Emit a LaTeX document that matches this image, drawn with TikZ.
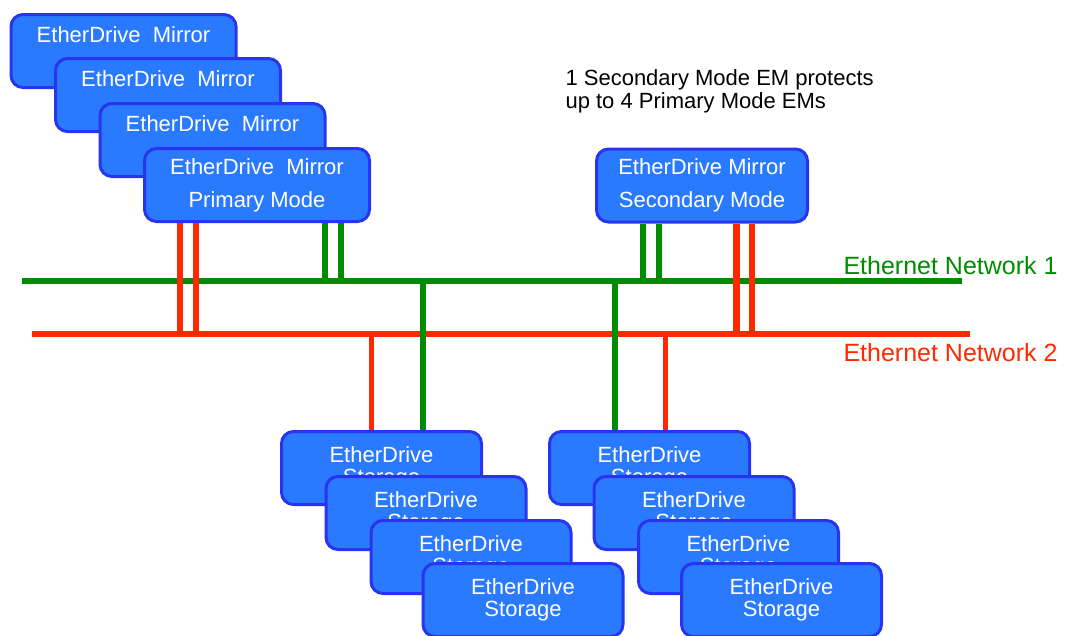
\documentclass[tikz,border=0pt]{standalone}
\usepackage{fontspec}
\setmainfont{Liberation Sans}
\definecolor{boxblue}{RGB}{42,122,255}
\definecolor{boxedge}{RGB}{40,52,240}
\definecolor{netgreen}{RGB}{0,140,0}
\definecolor{netred}{RGB}{255,40,0}
\tikzset{
  mirror/.style={draw=boxedge, line width=3pt, fill=boxblue, text=white,
    rounded corners=12pt, minimum width=225pt, minimum height=73pt,
    align=center, font=\fontsize{22}{33}\selectfont},
  storage/.style={mirror, minimum width=200pt, font=\fontsize{22}{22}\selectfont},
  greennet/.style={netgreen, line width=6.5pt},
  rednet/.style={netred, line width=6.5pt},
  netlabel/.style={anchor=base west, font=\fontsize{25}{25}\selectfont}
}
\begin{document}
\begin{tikzpicture}[x=1pt, y=-1pt]
\useasboundingbox (0,0) rectangle (1067,635);
% the two networks
\coordinate (n1w) at (22,281);  \coordinate (n1e) at (962,281);
\coordinate (n2w) at (32,334);  \coordinate (n2e) at (970,334);
\draw[greennet] (n1w) -- (n1e);
\draw[rednet] (n2w) -- (n2e);
\node[netlabel, text=netgreen] (lab1) at (840,274) {Ethernet Network 1};
\node[netlabel, text=netred] (lab2) at (840,361) {Ethernet Network 2};
% primary mode mirrors
\node[mirror] (pm1) at (123.5,51) {EtherDrive\ \ Mirror\\\mbox{}};
\node[mirror] (pm2) at (168,95) {EtherDrive\ \ Mirror\\\mbox{}};
\node[mirror] (pm3) at (212.5,140) {EtherDrive\ \ Mirror\\\mbox{}};
\node[mirror] (pm4) at (257,185) {EtherDrive\ \ Mirror\\Primary Mode};
\draw[greennet, line width=6pt] ([xshift=68pt]pm4.south) -- ([xshift=68pt]pm4.south |- n1w);
\draw[greennet, line width=6pt] ([xshift=84pt]pm4.south) -- ([xshift=84pt]pm4.south |- n1w);
\draw[rednet, line width=6pt] ([xshift=-77pt]pm4.south) -- ([xshift=-77pt]pm4.south |- n2w);
\draw[rednet, line width=6pt] ([xshift=-61pt]pm4.south) -- ([xshift=-61pt]pm4.south |- n2w);
% secondary mode mirror
\node[mirror, minimum width=211pt] (sm) at (702,185.5) {EtherDrive Mirror\\Secondary Mode};
\draw[greennet, line width=6pt] ([xshift=-59pt]sm.south) -- ([xshift=-59pt]sm.south |- n1w);
\draw[greennet, line width=6pt] ([xshift=-43pt]sm.south) -- ([xshift=-43pt]sm.south |- n1w);
\draw[rednet, line width=7pt] ([xshift=34pt]sm.south) -- ([xshift=34pt]sm.south |- n2w);
\draw[rednet, line width=6pt] ([xshift=50pt]sm.south) -- ([xshift=50pt]sm.south |- n2w);
\node[anchor=north west, align=left, font=\fontsize{22}{23}\selectfont] (note) at (562,66)
  {1 Secondary Mode EM protects\\up to 4 Primary Mode EMs};
% storage, left stack
\node[storage] (sl1) at (381.5,468) {EtherDrive\\Storage};
\node[storage] (sl2) at (426,513) {EtherDrive\\Storage};
\node[storage] (sl3) at (471,557) {EtherDrive\\Storage};
\node[storage] (sl4) at (523,600) {EtherDrive\\Storage};
\draw[rednet, line width=5pt] ([xshift=-10.5pt]sl1.north) -- ([xshift=-10.5pt]sl1.north |- n2w);
\draw[greennet, line width=6pt] ([xshift=41.5pt]sl1.north) -- ([xshift=41.5pt]sl1.north |- n1w);
% storage, right stack
\node[storage] (sr1) at (649.5,468) {EtherDrive\\Storage};
\node[storage] (sr2) at (694,513) {EtherDrive\\Storage};
\node[storage] (sr3) at (738.5,557) {EtherDrive\\Storage};
\node[storage] (sr4) at (781.5,600) {EtherDrive\\Storage};
\draw[greennet, line width=6pt] ([xshift=-34.5pt]sr1.north) -- ([xshift=-34.5pt]sr1.north |- n1w);
\draw[rednet, line width=5pt] ([xshift=15.5pt]sr1.north) -- ([xshift=15.5pt]sr1.north |- n2w);
\end{tikzpicture}
\end{document}
